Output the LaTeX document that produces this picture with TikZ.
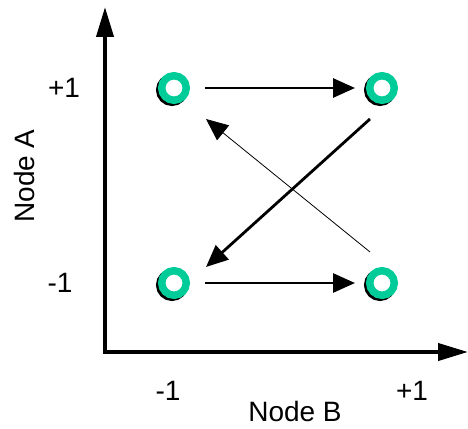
\documentclass[tikz,border=0pt]{standalone}
\usepackage{fontspec}
\setmainfont{Liberation Sans}
\usetikzlibrary{arrows.meta, positioning}
\definecolor{stategreen}{RGB}{0,204,153}

\begin{document}
\begin{tikzpicture}[
  x=1pt, y=-1pt,
  node distance=208pt,
  state/.style={circle, draw=stategreen, fill=white, line width=7.5pt, inner sep=0pt, minimum size=24.5pt,
    preaction={draw=black, line width=7.5pt, transform canvas={shift={(-2pt,-2pt)}}}},
  ticklabel/.style={font=\fontsize{28}{34}\selectfont},
  axisarrow/.style={{Triangle[length=30pt,width=17pt]}-{Triangle[length=30pt,width=17pt]}, line width=4pt, line join=miter},
  steparrow/.style={-{Triangle[length=22pt,width=19pt]}, line width=2.8pt},
  thinarrow/.style={-{Triangle[length=22pt,width=19pt]}, line width=0.8pt}
]
\useasboundingbox (0,0) rectangle (468,428);

% Axes
\coordinate (origin) at (105,352);
\coordinate (ytip) at (105,7);
\coordinate (xtip) at (468,352);
\draw[axisarrow] (ytip) -- (origin) -- (xtip);

\node[ticklabel] (a_plus) at (64,88) {+1};
\node[ticklabel] (a_minus) at (60,283) {-1};
\node[ticklabel, rotate=90] (a_label) at (24,176) {Node A};
\node[ticklabel] (b_minus) at (168,391) {-1};
\node[ticklabel] (b_plus) at (412,391) {+1};
\node[ticklabel] (b_label) at (295,411) {Node B};

% States
\node[state] (s_mp) at (174,88) {};
\node[state, right of=s_mp] (s_pp) {};
\node[state, below of=s_mp, node distance=195pt] (s_mm) {};
\node[state, right of=s_mm] (s_pm) {};

% Transitions
\draw[steparrow, shorten <=15pt, shorten >=11pt] (s_mp) -- (s_pp);
\draw[steparrow, shorten <=15pt, shorten >=11pt] (s_mm) -- (s_pm);
\draw[steparrow] ([xshift=-12pt, yshift=-31pt]s_pp.center) -- ([xshift=32pt, yshift=16pt]s_mm.center);
\draw[thinarrow] ([xshift=-12pt, yshift=31pt]s_pm.center) -- ([xshift=32pt, yshift=-31pt]s_mp.center);

\end{tikzpicture}
\end{document}
